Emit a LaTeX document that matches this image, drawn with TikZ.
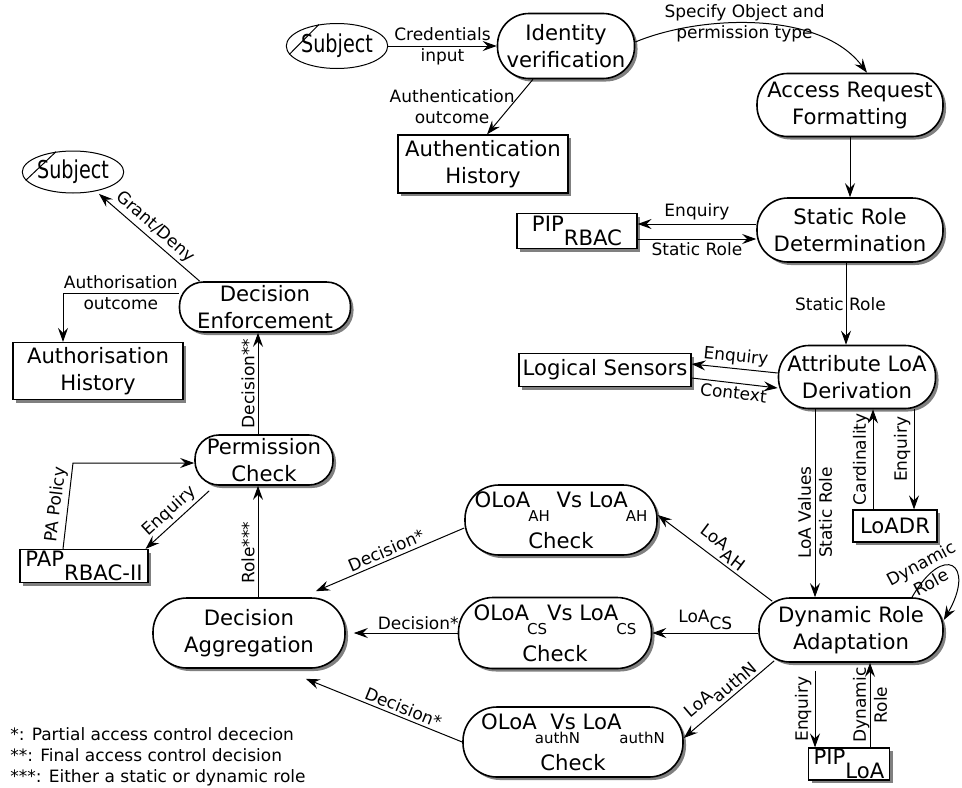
\documentclass[tikz,border=0pt]{standalone}
\usepackage{fontspec}
\setmainfont{DejaVu Sans}
\usepackage{graphicx}
\usepackage{tikz}
\usetikzlibrary{arrows.meta,shapes.geometric,shadows}
\definecolor{ink}{HTML}{000000}
\definecolor{shade}{HTML}{808080}
\newcommand{\sbt}[2][7pt]{\raisebox{-#1}{#2}}
\newcommand{\ssub}[1]{\kern-1pt\raisebox{-7pt}{\fontsize{7.5}{8}\selectfont #1}}
\newcommand{\subjtxt}{\fontsize{12.3}{14}\selectfont\scalebox{0.78}[1]{Subject}}
\tikzset{
  proc/.style={draw=ink, line width=0.8pt, fill=white, rectangle, inner sep=0pt, align=center,
    font=\fontsize{10.6}{13.5}\selectfont,
    drop shadow={shadow xshift=1.5pt, shadow yshift=-1.5pt, fill=shade, opacity=1}},
  store/.style={proc, line width=0.6pt},
  actor/.style={draw=ink, line width=0.5pt, ellipse, inner sep=0pt},
  arr/.style={draw=ink, line width=0.5pt, -{Stealth[length=7pt,width=5pt,inset=2.5pt]}},
  lab/.style={text=ink, font=\fontsize{8.5}{10.5}\selectfont, inner sep=1.5pt},
}
\begin{document}
\begin{tikzpicture}[x=0.5pt, y=0.5pt]
  \useasboundingbox (0,0) rectangle (962,-787);
  % nodes
  \node[actor, minimum width=49.5pt, minimum height=22.5pt] (subj1) at (337,-46) {\subjtxt};
  \node[proc, rounded corners=15.75pt, minimum width=68.5pt, minimum height=32.5pt] (idv) at (566,-46) {Identity\\verification};
  \node[proc, rounded corners=15.25pt, minimum width=93pt, minimum height=31.5pt] (arf) at (850,-105) {Access Request\\Formatting};
  \node[proc, rounded corners=15.5pt, minimum width=93pt, minimum height=32pt] (srd) at (850,-230) {Static Role\\Determination};
  \node[store, minimum width=60pt, minimum height=17.5pt] (pip) at (577,-231) {PIP\sbt{RBAC}};
  \node[store, minimum width=85pt, minimum height=29pt] (ahh) at (483,-164) {Authentication\\History};
  \node[actor, minimum width=50pt, minimum height=21pt] (subj2) at (73,-172) {\subjtxt};
  \node[proc, rounded corners=12pt, minimum width=85.5pt, minimum height=25pt] (de) at (265,-307) {Decision\\Enforcement};
  \node[store, minimum width=85pt, minimum height=28.5pt] (azh) at (98,-371) {Authorisation\\History};
  \node[store, minimum width=86pt, minimum height=16.5pt] (ls) at (605,-370) {Logical Sensors};
  \node[proc, rounded corners=15.25pt, minimum width=78.5pt, minimum height=31.5pt] (ald) at (857,-377) {Attribute LoA\\Derivation};
  \node[store, minimum width=42pt, minimum height=16pt] (loadr) at (895,-526) {LoADR};
  \node[proc, rounded corners=12pt, minimum width=69pt, minimum height=25pt] (pc) at (264,-460) {Permission\\Check};
  \node[store, minimum width=64pt, minimum height=16.5pt] (pap) at (84,-566) {PAP\sbt{RBAC-II}};
  \node[proc, rounded corners=17pt, minimum width=96pt, minimum height=35pt] (da) at (249,-633) {Decision\\Aggregation};
  \node[proc, rounded corners=17pt, minimum width=96pt, minimum height=35pt] (ah) at (561,-520) {OLoA\ssub{AH}\ Vs LoA\ssub{AH}\\[4.5pt]Check};
  \node[proc, rounded corners=17.25pt, minimum width=96.5pt, minimum height=35.5pt] (cs) at (555,-633) {OLoA\ssub{CS}Vs LoA\ssub{CS}\\[4.5pt]Check};
  \node[proc, rounded corners=17pt, minimum width=110pt, minimum height=35pt] (an) at (573,-742) {OLoA\rlap{\ssub{authN}}\ \ Vs LoA\ssub{authN}\\[4.5pt]Check};
  \node[proc, rounded corners=15.5pt, minimum width=92pt, minimum height=32pt] (dra) at (851,-630) {Dynamic Role\\Adaptation};
  \node[store, minimum width=40.5pt, minimum height=16pt] (pipl) at (849,-764) {PIP\sbt{LoA}};
  \draw[line width=0.5pt] (subj1.190) -- (subj1.130);
  \draw[line width=0.5pt] (subj2.190) -- (subj2.130);
  % authentication
  \draw[arr] (subj1) -- node[lab, align=center] {Credentials\\input} (idv);
  \draw[arr] ([xshift=-16.5pt]idv.south) -- node[lab, left, xshift=4pt, align=center] {Authentication\\outcome} ([xshift=2pt]ahh.north);
  \draw[arr] ([yshift=2pt]idv.east) .. controls (700,-15) and (820,-10) .. node[lab, align=center, pos=0.45] {Specify Object and\\permission type} ([xshift=8.5pt]arf.north);
  \draw[arr] (arf) -- (srd);
  \draw[arr] ([yshift=3pt]srd.west) -- node[lab, above] {Enquiry} ([yshift=3pt]srd.west -| pip.east);
  \draw[arr] ([yshift=-4.5pt]srd.west -| pip.east) -- node[lab, below] {Static Role} ([yshift=-4.5pt]srd.west);
  \draw[arr] ([xshift=-2pt]srd.south) -- node[lab, xshift=-2.8pt] {Static Role} ([xshift=-2pt]srd.south |- ald.north);
  % attribute LoA
  \draw[arr] ([yshift=2pt]ald.west) -- node[lab, above, sloped] {Enquiry} ([yshift=3pt]ls.east);
  \draw[arr] ([yshift=-4pt]ls.east) -- node[lab, below, sloped] {Context} ([yshift=-5.5pt]ald.west);
  \draw[arr] ([xshift=-21pt]ald.south) -- node[lab, rotate=90, align=center, pos=0.55] {LoA Values\\Static Role} ([xshift=-21pt]ald.south |- dra.north);
  \draw[arr] ([xshift=-11pt]loadr.north) -- node[lab, rotate=90, above] {Cardinality} ([xshift=-11pt]loadr.north |- ald.south);
  \draw[arr] ([xshift=9.5pt]loadr.north |- ald.south) -- node[lab, rotate=90, above, pos=0.4] {Enquiry} ([xshift=9.5pt]loadr.north);
  % dynamic role
  \draw[arr] ([xshift=7pt,yshift=-2pt]dra.north west) -- node[lab, above, sloped] {LoA\sbt[3.5pt]{AH}} ([yshift=2.5pt]ah.east);
  \draw[arr] (cs.east -| dra.west) -- node[lab, above] {LoA\sbt[3.5pt]{CS}} (cs.east);
  \draw[arr] ([xshift=8pt,yshift=1pt]dra.south west) -- node[lab, above, sloped] {LoA\sbt[3.5pt]{authN}} ([yshift=2pt]an.east);
  \draw[arr] ([xshift=30.5pt]dra.north) to[out=60, in=60, looseness=4.2] node[lab, align=center, pos=0.2, xshift=-2.5pt, rotate=28] {Dynamic\\Role} ([yshift=5pt]dra.east);
  \draw[arr] ([xshift=-17pt,yshift=-4pt]pipl.north |- dra.south) -- node[lab, rotate=90, above] {Enquiry} ([xshift=-17pt]pipl.north);
  \draw[arr] ([xshift=10.5pt]pipl.north) -- node[lab, rotate=90, align=center] {Dynamic\\Role} ([xshift=10.5pt]pipl.north |- dra.south);
  % decisions
  \draw[arr] ([yshift=-4pt]ah.west) -- node[lab, above, sloped] {Decision*} ([xshift=-15pt,yshift=3pt]da.north east);
  \draw[arr] (cs.west) -- node[lab, above, pos=0.38] {Decision*} ([xshift=4pt]da.east);
  \draw[arr] (an.west) -- node[lab, above, sloped, pos=0.4] {Decision*} ([xshift=-20pt,yshift=-5pt]da.south east);
  \draw[arr] ([xshift=4.5pt]da.north) -- node[lab, rotate=90, above, pos=0.4] {Role***} ([xshift=4.5pt]da.north |- pc.south);
  \draw[arr] ([xshift=7.5pt,yshift=-2.5pt]pc.south west) -- node[lab, above, sloped] {Enquiry} ([xshift=-1.5pt]pap.north east);
  \coordinate (pabend) at (73,-463);
  \draw[arr] ([xshift=-10.5pt]pap.north) -- node[lab, above, sloped] {PA Policy} (pabend) -- ([yshift=-1.5pt]pc.west);
  \draw[arr] ([xshift=-3pt]pc.north) -- node[lab, rotate=90, above] {Decision**} ([xshift=-3pt]pc.north |- de.south);
  \draw[arr, shorten >=2pt] ([xshift=10.5pt]de.north west) -- node[lab, above, sloped] {Grant/Deny} (subj2.-40);
  \draw[arr] ([yshift=7pt]de.west) -| node[lab, align=center, pos=0.25] {Authorisation\\outcome} ([xshift=-17.5pt]azh.north);
  % notes
  \node[lab, anchor=north west, align=left] (notes) at (7,-724) {*: Partial access control dececion\\**: Final access control decision\\***: Either a static or dynamic role};
\end{tikzpicture}
\end{document}
